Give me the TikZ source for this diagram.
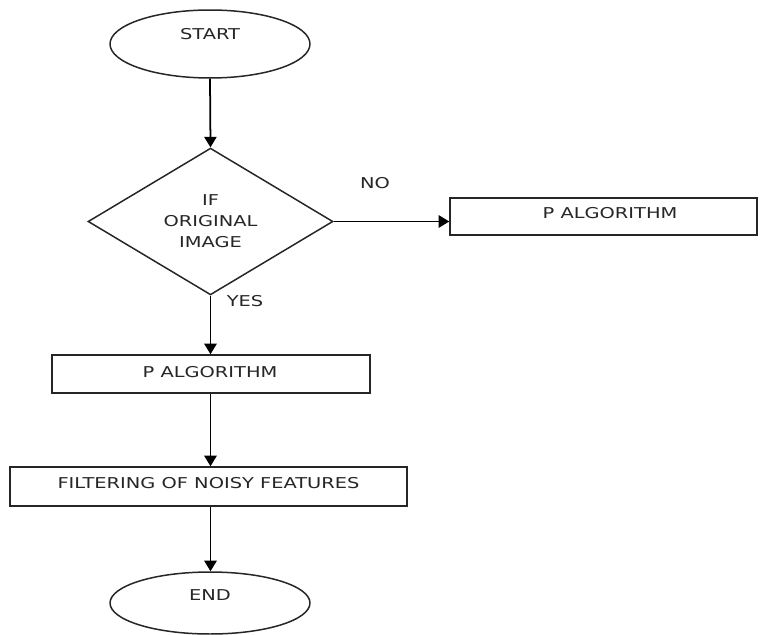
\documentclass[tikz,border=0pt]{standalone}
\usepackage{fontspec}
\setmainfont{DejaVu Sans}[FakeStretch=1.3]
\usetikzlibrary{shapes.geometric,arrows.meta}
\tikzset{
  base/.style={draw=black!85, line width=0.85pt, inner sep=0pt, font=\fontsize{8.5}{10}\selectfont},
  term/.style={base, ellipse, minimum width=4cm, minimum height=1.36cm},
  decision/.style={base, diamond, minimum width=4.9cm, minimum height=2.86cm},
  procbox/.style={base, rectangle},
  txt/.style={font=\fontsize{8.5}{10}\selectfont, inner sep=0pt, text=black!85},
  arr/.style={line width=1pt, -{Triangle[width=7pt,length=6pt]}}
}
\begin{document}
\begin{tikzpicture}[x=0.02cm,y=-0.02cm]
\useasboundingbox (0,0) rectangle (760,635);
\node[term, label={[txt,yshift=0.2cm]center:START}] (start) at (210,44) {};
\node[decision, align=center, text=black!85, font=\fontsize{8.5}{11.9}\selectfont] (dec) at (210.5,221.5) {IF\\ORIGINAL\\IMAGE};
\node[procbox, minimum width=6.14cm, minimum height=0.74cm, label={[txt,xshift=0.13cm,yshift=0.07cm]center:P ALGORITHM}] (pa1) at (603.5,216.5) {};
\node[procbox, minimum width=6.36cm, minimum height=0.76cm, label={[txt,xshift=-0.02cm,yshift=0.04cm]center:P ALGORITHM}] (pa2) at (211,374) {};
\node[procbox, minimum width=7.94cm, minimum height=0.78cm, label={[txt,yshift=0.07cm]center:FILTERING OF NOISY FEATURES}] (filt) at (208.5,486.5) {};
\node[term, minimum height=1.24cm, label={[txt,yshift=0.16cm]center:END}] (end) at (210,603) {};
\node[txt] (no) at (375,183) {NO};
\node[txt] (yes) at (245,301) {YES};
\draw[arr] (start.south) -- (dec.north);
\draw[arr] (dec.east) -- (dec.east -| pa1.west);
\draw[arr] (dec.south) -- (dec.south |- pa2.north);
\draw[arr] (pa2.south -| dec.south) -- (dec.south |- filt.north);
\draw[arr] (filt.south -| dec.south) -- (dec.south |- end.north);
\end{tikzpicture}
\end{document}
